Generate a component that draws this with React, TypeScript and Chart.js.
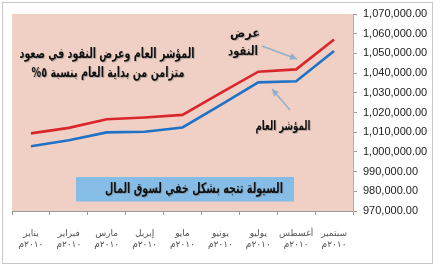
import React, { useEffect, useRef } from "react";
import { Chart, registerables } from "chart.js";

Chart.register(...registerables);

const months = ["يناير", "فبراير", "مارس", "إبريل", "مايو", "يونيو", "يوليو", "أغسطس", "سبتمبر"];
const yearLabel = "٢٠١٠م";
const moneySupply = [1009400, 1012200, 1016600, 1017500, 1018800, 1029800, 1040700, 1041900, 1057100];
const generalIndex = [1002900, 1005900, 1009900, 1010200, 1012400, 1023700, 1035300, 1035900, 1051200];
const yMin = 970000;
const yMax = 1070000;
const yStep = 10000;
const titleLines = ["المؤشر العام وعرض النقود في صعود", "متزامن من بداية العام بنسبة ٥%"];
const moneyLabel = ["عرض", "النقود"];
const indexLabel = "المؤشر العام";
const boxText = "السيولة تتجه بشكل خفي لسوق المال";

const ARABIC_FONT = '"DejaVu Sans", sans-serif';
const RLM = "\u200F";

function arrow(ctx: CanvasRenderingContext2D, x1: number, y1: number, x2: number, y2: number) {
  ctx.save();
  ctx.strokeStyle = "#8fb0cc";
  ctx.fillStyle = "#8fb0cc";
  ctx.lineWidth = 1.5;
  ctx.beginPath();
  ctx.moveTo(x1, y1);
  ctx.lineTo(x2, y2);
  ctx.stroke();
  const a = Math.atan2(y2 - y1, x2 - x1);
  const L = 7;
  const W = 3.5;
  ctx.beginPath();
  ctx.moveTo(x2, y2);
  ctx.lineTo(x2 - L * Math.cos(a) + W * Math.sin(a), y2 - L * Math.sin(a) - W * Math.cos(a));
  ctx.lineTo(x2 - L * Math.cos(a) - W * Math.sin(a), y2 - L * Math.sin(a) + W * Math.cos(a));
  ctx.closePath();
  ctx.fill();
  ctx.restore();
}

// centered text at a given size, squeezed horizontally to span roughly the given width
function shadowText(ctx: CanvasRenderingContext2D, raw: string, x: number, y: number, width: number, size: number) {
  const text = RLM + raw + RLM;
  ctx.save();
  ctx.font = `bold ${size}px ${ARABIC_FONT}`;
  const w = ctx.measureText(text).width;
  const sx = Math.min(1, width / w);
  ctx.translate(x, y);
  ctx.scale(sx, 1);
  ctx.textAlign = "center";
  ctx.textBaseline = "middle";
  ctx.fillStyle = "rgba(120,120,120,0.45)";
  ctx.fillText(text, 1 / sx, 1);
  ctx.fillStyle = "#111";
  ctx.fillText(text, 0, 0);
  ctx.restore();
}

const decor = {
  id: "decor",
  beforeDraw(chart: any) {
    const { ctx, chartArea } = chart;
    ctx.save();
    ctx.fillStyle = "#ffffff";
    ctx.fillRect(0, 0, chart.width, chart.height);
    ctx.strokeStyle = "#c8c8c8";
    ctx.lineWidth = 1;
    ctx.strokeRect(2.5, 2.5, chart.width - 5, chart.height - 4);
    ctx.fillStyle = "#f0d0c4";
    ctx.fillRect(chartArea.left, chartArea.top, chartArea.right - chartArea.left, chartArea.bottom - chartArea.top);
    ctx.restore();
  },
  afterDraw(chart: any) {
    const { ctx } = chart;
    shadowText(ctx, titleLines[0], 107, 54, 175, 14);
    shadowText(ctx, titleLines[1], 108, 73, 153, 14);
    shadowText(ctx, moneyLabel[0], 245, 34, 30, 13);
    shadowText(ctx, moneyLabel[1], 243, 52, 30, 13);
    arrow(ctx, 262, 46, 297, 59);
    shadowText(ctx, indexLabel, 283, 127, 55, 13);
    arrow(ctx, 290, 110, 272, 89);
    ctx.save();
    ctx.fillStyle = "#86bde6";
    ctx.fillRect(76, 177, 218, 24.5);
    ctx.restore();
    shadowText(ctx, boxText, 194, 189, 178, 14.5);
  },
};

export default function App() {
  const ref = useRef<HTMLCanvasElement | null>(null);
  useEffect(() => {
    document.body.style.margin = "0";
    if (!ref.current) return;
    const chart = new Chart(ref.current, {
      type: "line",
      data: {
        labels: months.map((m) => [m, yearLabel]),
        datasets: [
          {
            label: "عرض النقود",
            data: moneySupply,
            borderColor: "#d9262b",
            borderWidth: 2.6,
            pointRadius: 0,
            tension: 0,
          },
          {
            label: "المؤشر العام",
            data: generalIndex,
            borderColor: "#1f72c8",
            borderWidth: 2.6,
            pointRadius: 0,
            tension: 0,
          },
        ],
      },
      options: {
        responsive: false,
        animation: false,
        devicePixelRatio: 1,
        layout: { padding: { left: 12, top: 14, right: 0, bottom: 0 } },
        plugins: { legend: { display: false }, tooltip: { enabled: false } },
        scales: {
          x: {
            offset: true,
            grid: { offset: true, drawOnChartArea: false, tickLength: 4, color: "#9a9a9a" },
            border: { color: "#9a9a9a" },
            ticks: {
              font: { family: ARABIC_FONT, size: 9 },
              color: "#555",
              padding: 13,
              maxRotation: 0,
              autoSkip: false,
            },
            afterFit(scale: any) {
              scale.height = 54;
            },
          },
          y: {
            position: "right",
            min: yMin,
            max: yMax,
            grid: { drawOnChartArea: false, tickLength: 4, color: "#9a9a9a" },
            border: { color: "#b0b0b0" },
            ticks: {
              stepSize: yStep,
              font: { family: '"Liberation Sans", Arial, sans-serif', size: 11 },
              color: "#222",
              padding: 6,
              callback: (v: any) =>
                Number(v).toLocaleString("en-US", { minimumFractionDigits: 2, maximumFractionDigits: 2 }),
            },
            afterFit(scale: any) {
              scale.width = 82;
            },
          },
        },
      },
      plugins: [decor],
    });
    return () => chart.destroy();
  }, []);
  return (
    <div style={{ position: "absolute", left: 0, top: 0, width: 435, height: 265 }}>
      <canvas ref={ref} width={435} height={265} />
    </div>
  );
}
